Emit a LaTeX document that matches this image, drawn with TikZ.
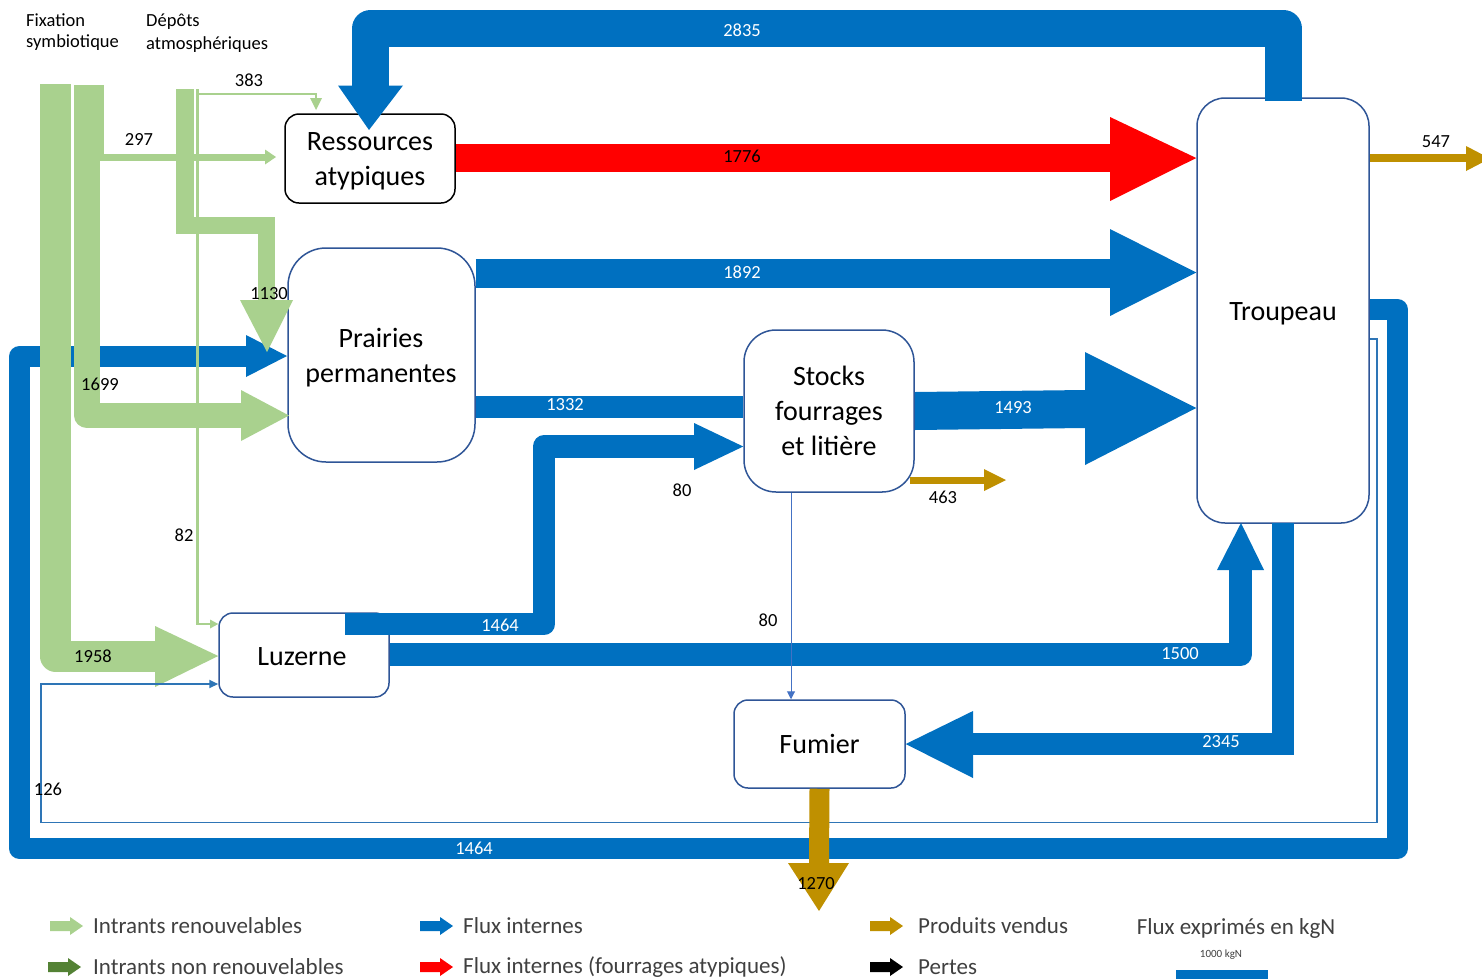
\documentclass[tikz,border=0pt]{standalone}
\usepackage{fontspec}
\setmainfont{Carlito}
\usetikzlibrary{arrows.meta}

\definecolor{flowblue}{HTML}{0070C0}
\definecolor{flowred}{HTML}{FF0000}
\definecolor{flowgreen}{HTML}{A9D18E}
\definecolor{flowdkgreen}{HTML}{548235}
\definecolor{flowgold}{HTML}{BF9000}
\definecolor{boxedge}{HTML}{2F5597}
\definecolor{thinblue}{HTML}{2E75B6}
\definecolor{thinblueb}{HTML}{4472C4}
\definecolor{legendtext}{HTML}{404040}

\newcommand\flowboxfont{\fontsize{28}{35}\selectfont}
\newcommand\flownumfont{\fontsize{18.5}{23}\selectfont}
\newcommand\flowlegfont{\fontsize{23}{27}\selectfont}

\begin{document}
\begin{tikzpicture}[x=1pt,y=-1pt,
  box/.style={draw=boxedge, line width=1.5pt, fill=white, inner sep=0pt},
  boxtext/.style={align=center, inner sep=0pt, font=\flowboxfont},
  band/.style={line width=#1pt, line join=round},
  sqband/.style={line width=#1pt, line join=miter},
  num/.style={inner sep=0pt, font=\flownumfont},
  wnum/.style={num, text=white},
  leg/.style={anchor=west, inner sep=0pt, font=\flowlegfont, text=legendtext},
  legarrow/.pic={\fill (0,-5) -- (20,-5) -- (20,-9) -- (33,0) -- (20,9) -- (20,5) -- (0,5) -- cycle;}]

\clip (0,0) rectangle (1482,978);
\fill[white] (0,0) rectangle (1482,978);

% ---------- compartments ----------
\node[box, draw=black, rounded corners=14pt, minimum width=170pt, minimum height=89pt] (res) at (370,158.5) {};
\node[box, rounded corners=38pt, minimum width=187pt, minimum height=214pt] (pra) at (381.5,355) {};
\node[box, rounded corners=32pt, minimum width=170pt, minimum height=162pt] (stk) at (829,411) {};
\node[box, rounded corners=28pt, minimum width=172pt, minimum height=425pt] (trp) at (1283,310.5) {};
\node[box, rounded corners=14pt, minimum width=170pt, minimum height=84pt] (luz) at (304,655) {};
\node[box, rounded corners=14pt, minimum width=171pt, minimum height=88pt] (fum) at (819.5,744) {};

\node[boxtext] (res-t) at (370,161.5) {Ressources\\atypiques};
\node[boxtext] (pra-t) at (381,358) {Prairies\\permanentes};
\node[boxtext] (stk-t) at (829,411) {Stocks\\fourrages\\et litière};
\node[boxtext] (trp-t) at (1283,313.5) {Troupeau};
\node[boxtext] (luz-t) at (302,657) {Luzerne};
\node[boxtext] (fum-t) at (819.5,744) {Fumier};

% ---------- internal flows (blue) ----------
% Troupeau -> Prairies, round the whole farm
\draw[flowblue, band=21] (trp.east |- 0,309.5) -- (1397.5,309.5) -- (1397.5,848.5) -- (19.5,848.5) -- (19.5,356.5) -- (246,356.5);
\fill[flowblue] (246,335) -- (287,356) -- (246,377) -- cycle;

% Troupeau -> Ressources atypiques
\draw[flowblue, band=37] (1283.5,101) -- (1283.5,28.5) -- (370.5,28.5) -- (370.5,86);
\fill[flowblue] (338,85.5) -- (403,85.5) -- (369,130) -- cycle;

% Ressources atypiques -> Troupeau
\draw[flowred, line width=28pt] (res.east |- 0,158) -- (1111,158);
\fill[flowred] (1110,117) -- (trp.west |- 0,158) -- (1110,201) -- cycle;

% Prairies -> Troupeau
\draw[flowblue, line width=29pt] (pra.east |- 0,273.5) -- (1111,273.5);
\fill[flowblue] (1110,229) -- (trp.west |- 0,272.5) -- (1110,316) -- cycle;

% Prairies -> Stocks
\draw[flowblue, line width=22pt] (pra.east |- 0,407) -- (stk.west |- 0,407);

% Stocks -> Troupeau
\fill[flowblue] (stk.east |- 0,392) -- (1085,390) -- (1085,352) -- (trp.west |- 0,408) -- (1085,465) -- (1085,428) -- (stk.east |- 0,430) -- cycle;

% Luzerne -> Stocks
\draw[flowblue, band=22.5] (345,624) -- (544,624) -- (544,446.5) -- (694,446.5);
\fill[flowblue] (694,423) -- (stk.west |- 0,446.5) -- (694,470) -- cycle;

% Luzerne -> Troupeau
\draw[flowblue, band=23] (luz.east |- 0,654.5) -- (1240.5,654.5) -- (1240.5,570);
\fill[flowblue] (1217,570) -- (1241,523) -- (1264,570) -- cycle;

% Troupeau -> Fumier
\draw[flowblue, sqband=22] (1283,523) -- (1283,744) -- (973,744);
\fill[flowblue] (973,711) -- (fum.east) -- (973,778) -- cycle;

% ---------- renewable inputs (green) ----------
% symbiotic fixation -> Luzerne
\draw[flowgreen, band=31] (55.5,84) -- (55.5,656) -- (155,656);
\fill[flowgreen] (155,626) -- (luz.west |- 0,656) -- (155,687) -- cycle;
% symbiotic fixation -> Prairies
\draw[flowgreen, band=25.5] (87,85) -- (87,415.5) -- (241,415.5);
\fill[flowgreen] (241,390) -- (289,415.5) -- (241,441) -- cycle;
% symbiotic fixation -> Ressources atypiques
\draw[flowgreen, band=7] (100.5,85) -- (100.5,157) -- (266,157);
\fill[flowgreen] (265,149.5) -- (276,157) -- (265,164.5) -- cycle;
% atmospheric deposition -> Prairies
\draw[flowgreen, sqband=17.5] (185,89) -- (185,225.5) -- (266.5,225.5) -- (266.5,300);
\fill[flowgreen] (240,300) -- (293,300) -- (267,352) -- cycle;
% atmospheric deposition -> Ressources atypiques / Luzerne
\draw[flowgreen, sqband=2.5] (197.5,89) -- (197.5,94) -- (316,94) -- (316,99);
\fill[flowgreen] (310,98) -- (322,98) -- (316,110) -- cycle;
\draw[flowgreen, sqband=2.5] (197.5,94) -- (197.5,624) -- (210,624);
\fill[flowgreen] (210,619.5) -- (luz.west |- 0,624) -- (210,628.5) -- cycle;

% ---------- thin internal flows ----------
\draw[thinblue, line width=1.8pt, -{Triangle[length=9pt,width=8pt]}] (trp.east |- 0,339) -- (1377,339) -- (1377,822.5) -- (41,822.5) -- (41,684) -- (luz.west |- 0,684);
\draw[thinblueb, line width=1pt, -{Triangle[length=8pt,width=8pt]}] (stk.south -| 791,0) -- (fum.north -| 791,0);

% ---------- sold products (gold) ----------
\draw[flowgold, line width=8.5pt] (trp.east |- 0,158) -- (1466,158);
\fill[flowgold] (1466,146) -- (1490,158.5) -- (1466,171) -- cycle;
\draw[flowgold, line width=7pt] (910,480) -- (985,480);
\fill[flowgold] (984,469) -- (1006,480) -- (984,491) -- cycle;
\draw[flowgold, line width=20pt] (fum.south) -- (819,863);
\fill[flowgold] (788,863) -- (849,863) -- (819,911) -- cycle;

% ---------- source titles ----------
\node[num, anchor=west] (fix1) at (26,20) {Fixation};
\node[num, anchor=west] (fix2) at (26,43) {symbiotique};
\node[num, anchor=west] (dep1) at (146,22) {Dépôts};
\node[num, anchor=west] (dep2) at (146,45) {atmosphériques};

% ---------- flow values ----------
\node[num] (v383) at (249,80) {383};
\node[num] (v297) at (139,139) {297};
\node[num] (v1130) at (269,294) {1130};
\node[num] (v1699) at (100,384) {1699};
\node[num] (v82) at (184,535) {82};
\node[num] (v1958) at (93,656) {1958};
\node[num] (v126) at (48,789) {126};
\node[num] (v80a) at (682,490) {80};
\node[num] (v80b) at (768,620) {80};
\node[num] (v463) at (943,497) {463};
\node[num] (v547) at (1436,142) {547};
\node[num] (v1270) at (816,884) {1270};
\node[num] (v1776) at (742,156) {1776};
\node[wnum] (v2835) at (742,30) {2835};
\node[wnum] (v1892) at (742,272) {1892};
\node[wnum] (v1332) at (565,405) {1332};
\node[wnum] (v1464a) at (500,625) {1464};
\node[wnum] (v1493) at (1013,408) {1493};
\node[wnum] (v1500) at (1180,654) {1500};
\node[wnum] (v2345) at (1221,742) {2345};
\node[wnum] (v1464b) at (474,848) {1464};

% ---------- legend ----------
\pic[flowgreen] at (50,926) {legarrow};
\pic[flowdkgreen] at (48,967) {legarrow};
\pic[flowblue] at (420,926) {legarrow};
\pic[flowred] at (420,967) {legarrow};
\pic[flowgold] at (870,926) {legarrow};
\pic[black] at (870,967) {legarrow};
\node[leg] (lg1) at (93,926) {Intrants renouvelables};
\node[leg] (lg2) at (93,967) {Intrants non renouvelables};
\node[leg] (lg3) at (463,926) {Flux internes};
\node[leg] (lg4) at (463,967) {Flux internes (fourrages atypiques)};
\node[leg] (lg5) at (918,926) {Produits vendus};
\node[leg] (lg6) at (918,967) {Pertes};
\node[inner sep=0pt, font=\flowlegfont, text=legendtext] (unit) at (1236,928) {Flux exprimés en kgN};
\node[inner sep=0pt, font=\fontsize{11}{13}\selectfont, text=legendtext] (scale) at (1221,955) {1000 kgN};
\fill[flowblue] (1176,970) rectangle (1268,990);
\end{tikzpicture}
\end{document}
